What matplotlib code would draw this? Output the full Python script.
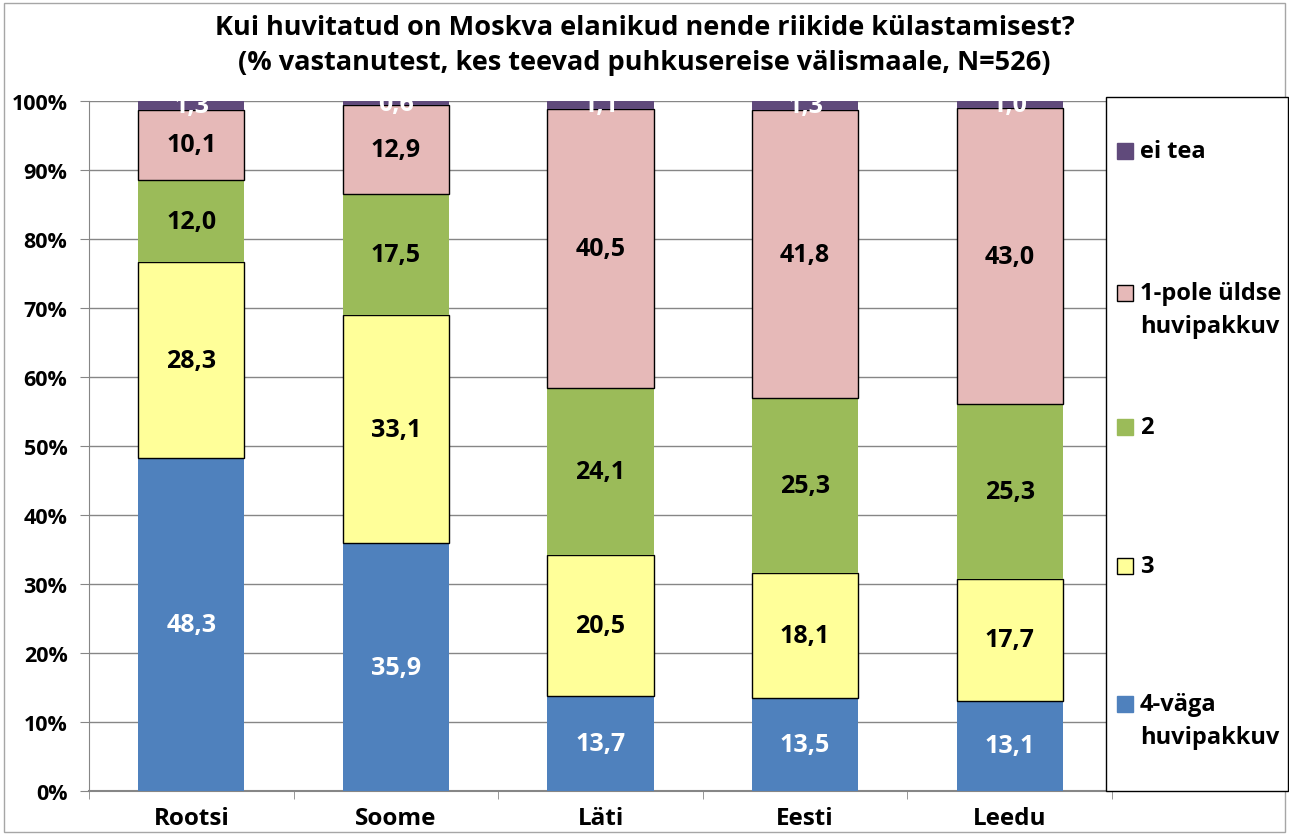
import numpy as np
import matplotlib.pyplot as plt
from matplotlib.patches import Rectangle

plt.rcParams['font.family'] = ['Open Sans', 'DejaVu Sans']
plt.rcParams['font.weight'] = 'bold'

# Data
countries = ["Rootsi", "Soome", "Läti", "Eesti", "Leedu"]
series = ["4-väga\nhuvipakkuv", "3", "2", "1-pole üldse\nhuvipakkuv", "ei tea"]
v4 = [48.3, 35.9, 13.7, 13.5, 13.1]
v3 = [28.3, 33.1, 20.5, 18.1, 17.7]
v2 = [12.0, 17.5, 24.1, 25.3, 25.3]
v1 = [10.1, 12.9, 40.5, 41.8, 43.0]
v0 = [1.3, 0.6, 1.1, 1.3, 1.0]

colors = ["#4F81BD", "#FFFF99", "#9BBB59", "#E6B9B8", "#604A7B"]
edges = [None, "black", None, "black", None]
text_colors = ["white", "black", "black", "black", "white"]

values = np.array([v4, v3, v2, v1, v0])
pct = values / values.sum(axis=0) * 100

W, H = 1289, 837
fig = plt.figure(figsize=(W / 100, H / 100), dpi=100)
ax = fig.add_axes([89 / W, 1 - 792 / H, 1023 / W, 690 / H])

x = np.arange(len(countries))
bottom = np.zeros(len(countries))
for i in range(len(series)):
    if edges[i]:
        ax.bar(x, pct[i], 0.52, bottom=bottom, color=colors[i],
               edgecolor=edges[i], linewidth=1, zorder=3)
    else:
        ax.bar(x, pct[i], 0.52, bottom=bottom, color=colors[i],
               linewidth=0, zorder=3)
    for j in range(len(countries)):
        ax.text(x[j], bottom[j] + pct[i][j] / 2, f"{values[i][j]:.1f}".replace(".", ","),
                ha="center", va="center", fontsize=18, fontweight="bold",
                color=text_colors[i], zorder=4, clip_on=True)
    bottom += pct[i]

ax.set_xlim(-0.5, len(countries) - 0.5)
ax.set_ylim(0, 100)
ax.set_yticks(np.arange(0, 101, 10))
ax.set_yticklabels([f"{t}%" for t in range(0, 101, 10)], fontsize=15.5, fontweight="bold")
ax.set_xticks(x)
ax.set_xticklabels(countries, fontsize=17.5, fontweight="bold")
ax.set_xticks(np.arange(-0.5, len(countries), 1), minor=True)
ax.tick_params(axis="x", which="major", length=0, pad=11)
ax.tick_params(axis="x", which="minor", length=6, color="#868686", direction="out")
ax.tick_params(axis="y", length=6.5, color="#868686", pad=9)
ax.grid(axis="y", color="#868686", linewidth=1, zorder=0)
for s in ["top", "right"]:
    ax.spines[s].set_visible(False)
ax.spines["left"].set_color("#868686")
ax.spines["bottom"].set_color("#868686")
ax.spines["bottom"].set_linewidth(1.5)

# title
fig.text(0.5, 1 - 28 / H, "Kui huvitatud on Moskva elanikud nende riikide külastamisest?",
         ha="center", va="center", fontsize=19.5, fontweight="bold")
fig.text(0.5, 1 - 63 / H, "(% vastanutest, kes teevad puhkusereise välismaale, N=526)",
         ha="center", va="center", fontsize=19.5, fontweight="bold")

# legend box, drawn by hand so entries sit where the original has them
fig.patches.append(Rectangle((1106 / W, 1 - 792 / H), 182 / W, 694 / H,
                             transform=fig.transFigure, facecolor="white",
                             edgecolor="black", linewidth=1, zorder=5))
leg_y = [705, 567, 428, 294, 152]
for i in range(len(series)):
    y0 = leg_y[i]
    fig.patches.append(Rectangle((1117 / W, 1 - (y0 + 8) / H), 16 / W, 16 / H,
                                 transform=fig.transFigure, facecolor=colors[i],
                                 edgecolor=edges[i] if edges[i] else colors[i],
                                 linewidth=1, zorder=6))
    for k, line in enumerate(series[i].split("\n")):
        fig.text(1140 / W, 1 - (y0 + 33 * k) / H, line, ha="left", va="center",
                 fontsize=17, fontweight="bold", zorder=7)

# figure border
fig.patches.append(Rectangle((4 / W, 4 / H), 1 - 8 / W, 1 - 8 / H, transform=fig.transFigure,
                             fill=False, edgecolor="#A6A6A6", linewidth=1))

fig.savefig("out.png", dpi=100)
